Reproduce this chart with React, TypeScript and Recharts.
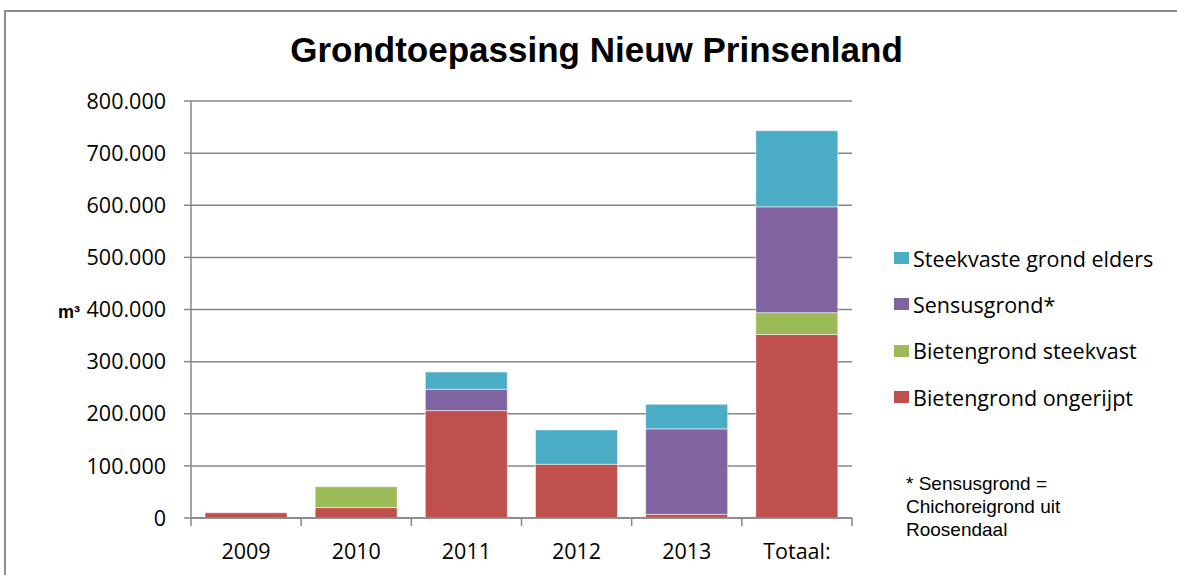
import { BarChart, Bar, XAxis, YAxis, CartesianGrid } from "recharts";

const categories = ["2009", "2010", "2011", "2012", "2013", "Totaal:"];
const ongerijpt = [10000, 20000, 206000, 103000, 7000, 352000];
const steekvast = [0, 40000, 0, 0, 0, 42000];
const sensus = [0, 0, 41000, 0, 164000, 203000];
const elders = [0, 0, 33000, 66000, 47000, 146000];
const yTicks = [0, 100000, 200000, 300000, 400000, 500000, 600000, 700000, 800000];

const series = [
  { key: "ongerijpt", name: "Bietengrond ongerijpt", color: "#C0504D", values: ongerijpt },
  { key: "steekvast", name: "Bietengrond steekvast", color: "#9BBB59", values: steekvast },
  { key: "sensus", name: "Sensusgrond*", color: "#8064A2", values: sensus },
  { key: "elders", name: "Steekvaste grond elders", color: "#4BACC6", values: elders },
];

const data = categories.map((cat, i) => {
  const row: Record<string, string | number> = { cat };
  series.forEach((s) => (row[s.key] = s.values[i]));
  return row;
});

const W = 1177;
const H = 575;
const margin = { top: 101, right: 325, bottom: 17, left: 100 };
const yAxisWidth = 91;
const axisColor = "#868686";
const tickFont = "'Open Sans', 'Noto Sans', sans-serif";
const tickSize = 21.5;

// 800000 -> "800.000"
const fmt = (v: number) => String(v).replace(/\B(?=(\d{3})+(?!\d))/g, ".");

function XTick(props: any) {
  const { x, y, payload, index } = props;
  const band = (W - margin.left - margin.right - yAxisWidth) / categories.length;
  const half = payload?.offset || band / 2;
  return (
    <g>
      <line x1={x - half} y1={y} x2={x - half} y2={y + 8} stroke={axisColor} strokeWidth={1.5} />
      {index === categories.length - 1 && (
        <line x1={x + half} y1={y} x2={x + half} y2={y + 8} stroke={axisColor} strokeWidth={1.5} />
      )}
      <text x={x} y={y + 41} textAnchor="middle" fill="#000" fontSize={tickSize} fontFamily={tickFont}>
        {payload.value}
      </text>
    </g>
  );
}

export default function App() {
  return (
    <div style={{ position: "absolute", left: 0, top: 0, width: W, height: H, overflow: "hidden", background: "#fff" }}>
      {/* outer frame */}
      <div
        style={{
          position: "absolute",
          left: 4,
          top: 10,
          width: W + 20,
          height: H + 20,
          border: "2px solid #8c8c8c",
        }}
      />

      {/* Title */}
      <div
        style={{
          position: "absolute",
          left: 0,
          top: 30,
          width: 1193,
          textAlign: "center",
          fontFamily: "'Liberation Sans', Arial, sans-serif",
          fontWeight: "bold",
          fontSize: 35,
          lineHeight: "40px",
          color: "#000",
        }}
      >
        Grondtoepassing Nieuw Prinsenland
      </div>

      {/* Y unit */}
      <div
        style={{
          position: "absolute",
          left: 58,
          top: 302,
          fontFamily: "'Liberation Sans', Arial, sans-serif",
          fontWeight: "bold",
          fontSize: 18,
          color: "#000",
        }}
      >
        m³
      </div>

      <div style={{ position: "absolute", left: 0, top: 0 }}>
        <BarChart width={W} height={H} data={data} margin={margin} barCategoryGap="12.7%">
          <CartesianGrid vertical={false} stroke={axisColor} strokeWidth={1.5} />
          <XAxis
            dataKey="cat"
            height={40}
            stroke={axisColor}
            strokeWidth={1.5}
            tickLine={false}
            tickSize={0}
            tickMargin={0}
            interval={0}
            tick={<XTick />}
          />
          <YAxis
            width={yAxisWidth}
            domain={[0, 800000]}
            ticks={yTicks}
            tickFormatter={fmt}
            stroke={axisColor}
            strokeWidth={1.5}
            tickSize={7}
            tickMargin={18}
            tick={{ fill: "#000", fontSize: tickSize, fontFamily: tickFont }}
          />
          {series.map((s) => (
            <Bar
              key={s.key}
              dataKey={s.key}
              name={s.name}
              stackId="a"
              fill={s.color}
              stroke="rgba(255,255,255,0.5)"
              strokeWidth={1}
              isAnimationActive={false}
            />
          ))}
        </BarChart>
      </div>

      {/* Legend */}
      <div style={{ position: "absolute", left: 894, top: 235, fontFamily: tickFont, fontSize: 21.5, color: "#000" }}>
        {[...series].reverse().map((s) => (
          <div key={s.key} style={{ display: "flex", alignItems: "center", height: 46.3 }}>
            <span style={{ width: 15, height: 12, background: s.color, marginRight: 4, display: "inline-block" }} />
            <span>{s.name}</span>
          </div>
        ))}
      </div>

      {/* Footnote */}
      <div
        style={{
          position: "absolute",
          left: 906,
          top: 472,
          fontFamily: "'Liberation Sans', Arial, sans-serif",
          fontSize: 19,
          lineHeight: "23px",
          color: "#000",
        }}
      >
        * Sensusgrond =
        <br />
        Chichoreigrond uit
        <br />
        Roosendaal
      </div>
    </div>
  );
}
